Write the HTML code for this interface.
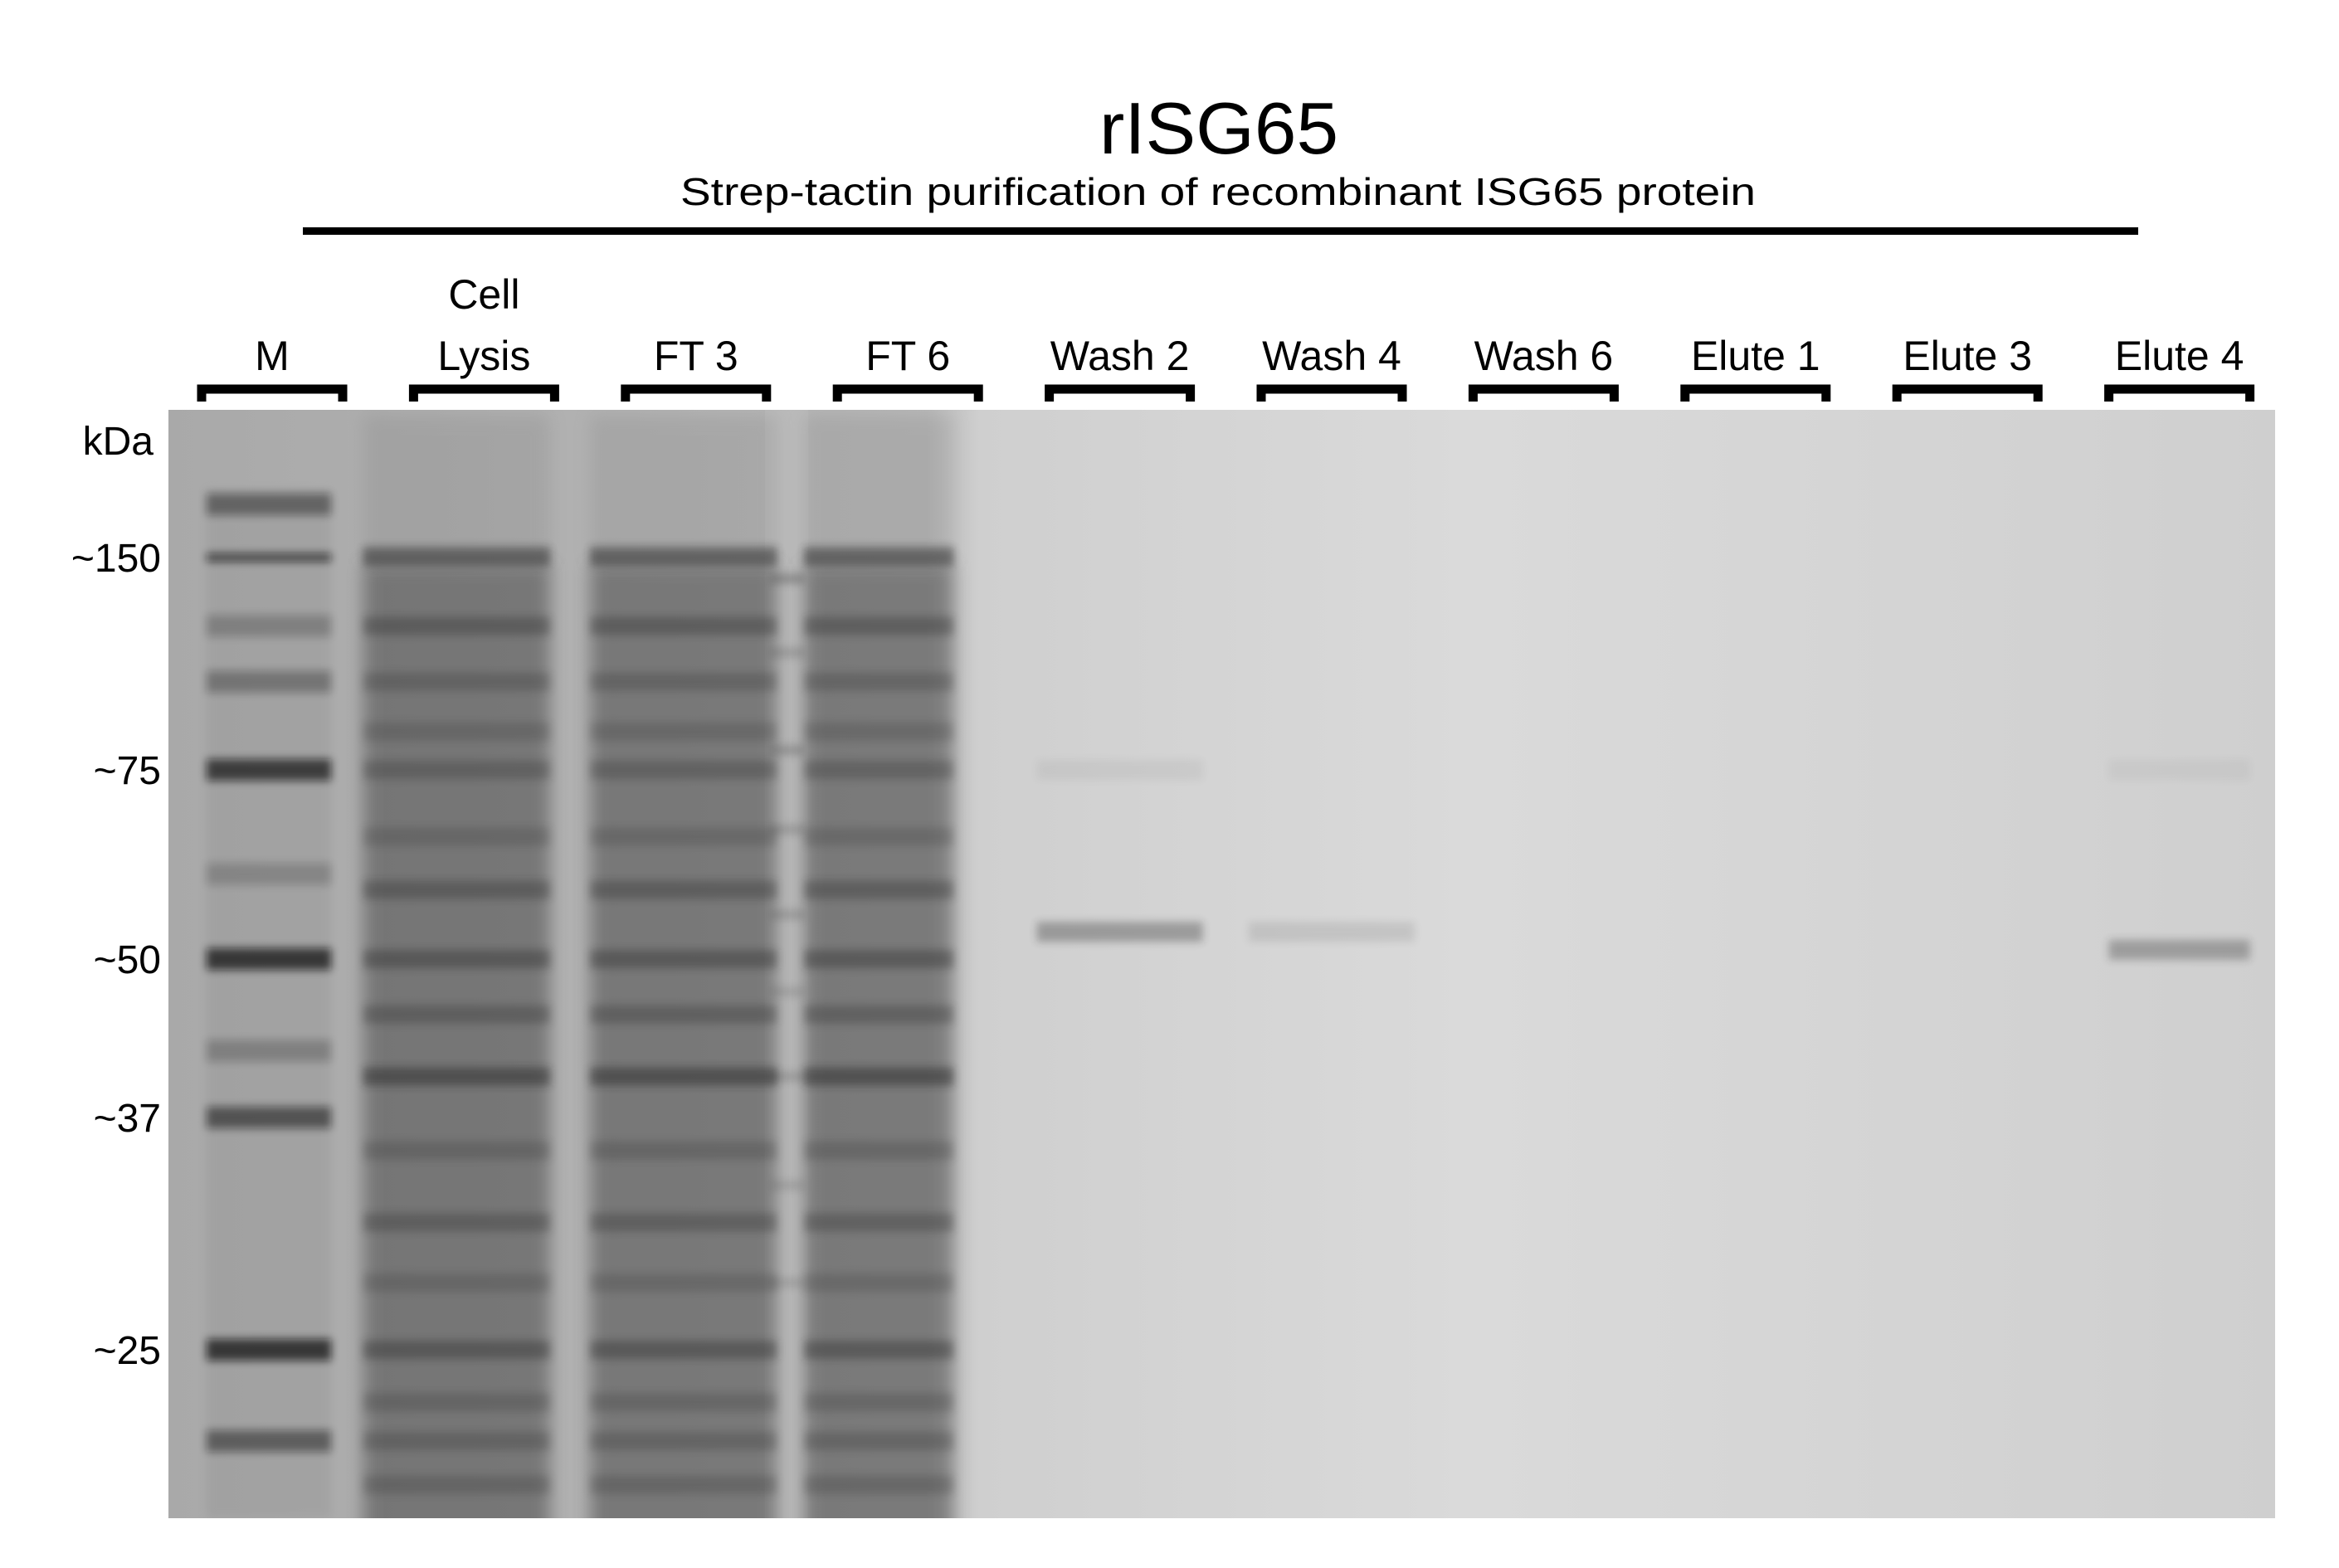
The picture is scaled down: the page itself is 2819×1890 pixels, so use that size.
<!DOCTYPE html>
<html><head><meta charset="utf-8"><style>
html,body{margin:0;padding:0;background:#fff;width:2819px;height:1890px;overflow:hidden}
svg{display:block}
text{font-family:"Liberation Sans",sans-serif;fill:#000}
</style></head><body>
<svg id="fig" width="2819" height="1890" viewBox="0 0 2819 1890" xmlns="http://www.w3.org/2000/svg">
<defs>
<filter id="blur" x="-20%" y="-200%" width="140%" height="500%"><feGaussianBlur stdDeviation="5"/></filter>
<filter id="blurS" x="-20%" y="-20%" width="140%" height="140%"><feGaussianBlur stdDeviation="10"/></filter>
<clipPath id="gelclip"><rect x="203" y="494" width="2539" height="1336"/></clipPath>
<linearGradient id="gelbg" x1="0" y1="0" x2="1" y2="0">
<stop offset="0" stop-color="#a9a9a9"/><stop offset="0.36" stop-color="#b8b8b8"/>
<stop offset="0.385" stop-color="#cfcfcf"/><stop offset="0.62" stop-color="#dadada"/>
<stop offset="1" stop-color="#cfcfcf"/></linearGradient>
</defs>
<text x="1469" y="185" font-size="88" text-anchor="middle" textLength="288" lengthAdjust="spacingAndGlyphs">rISG65</text>
<text x="1468" y="247" font-size="46" text-anchor="middle" textLength="1296" lengthAdjust="spacingAndGlyphs">Strep-tactin purification of recombinant ISG65 protein</text>
<rect x="365" y="274" width="2212" height="9" fill="#000"/>
<rect x="203" y="494" width="2539" height="1336" fill="url(#gelbg)"/>
<g id="gel" clip-path="url(#gelclip)"></g>
<g id="labels"></g>
</svg>
<script>
const lanes = ['M','Cell Lysis','FT 3','FT 6','Wash 2','Wash 4','Wash 6','Elute 1','Elute 3','Elute 4'];
const tickLabels = ['~150','~75','~50','~37','~25'];
const tickKda = [150,75,50,37,25];
const calibKda = [250,150,75,50,37,25,20];
const calibY = [608,672,928,1156,1347,1627,1737];
const markerKda = [250,150,120,100,75,60,50,42,37,25,20];
const markerInt = [0.55,0.85,0.3,0.4,0.9,0.25,0.95,0.3,0.7,0.95,0.6];
const lysateKda = [155,150,120,100,85,75,65,58,50,45,40,35,31,28,25,22,20,18];
const lysateInt = [0.3,0.8,0.6,0.45,0.35,0.5,0.35,0.6,0.7,0.55,0.9,0.4,0.55,0.35,0.7,0.4,0.45,0.4];
const wash2Kda = [75,53]; const wash2Int = [0.08,0.45];
const wash4Kda = [53]; const wash4Int = [0.15];
const elute4Kda = [75,51]; const elute4Int = [0.06,0.42];
const extraKda = [140,110,80,66,55,47,40,33,28];
const extraInt = [0.3,0.2,0.25,0.2,0.2,0.15,0.2,0.15,0.15];

const NS='http://www.w3.org/2000/svg';
const gel=document.getElementById('gel'), lab=document.getElementById('labels');
function laneX(i){return 328+i*255.4;}
function yOf(k){const l=Math.log(k);
  for(let j=0;j<calibKda.length-1;j++){const a=Math.log(calibKda[j]),b=Math.log(calibKda[j+1]);
    if(l<=a&&l>=b)return calibY[j]+(a-l)/(a-b)*(calibY[j+1]-calibY[j]);}
  if(l>Math.log(calibKda[0]))return calibY[0]-(l-Math.log(calibKda[0]))*300;
  return calibY[calibY.length-1]+(Math.log(calibKda[calibKda.length-1])-l)*500;}
function mk(tag,attrs,parent){const e=document.createElementNS(NS,tag);for(const k in attrs)e.setAttribute(k,attrs[k]);(parent||gel).appendChild(e);return e;}

// extra lane between FT3 and FT6 (drawn first, under smears)
const xl=mk('rect',{x:922,y:494,width:52,height:1336,fill:'#bababa'});


extraKda.forEach((k,j)=>{
  const b=mk('rect',{x:928,y:yOf(k)-6,width:42,height:12,fill:'#333',opacity:extraInt[j],filter:'url(#blur)'});
  
  
});

// lane smears
[1,2,3].forEach(i=>{
  const w=i===3?180:225, cx=laneX(i)-(i===1?33:i===2?15:35);
  const r=mk('rect',{x:cx-w/2,y:680,width:w,height:1200,fill:'#4a4a4a',opacity:0.55,filter:'url(#blurS)'});
  
  
  const t=mk('rect',{x:cx-w/2,y:500,width:w,height:180,fill:'#777',opacity:0.2,filter:'url(#blurS)'});
  
  
  lysateKda.forEach((k,j)=>{
    const b=mk('rect',{x:cx-w/2,y:yOf(k)-11,width:w,height:22,fill:'#222',opacity:lysateInt[j]*0.5,filter:'url(#blur)'});
    
    
  });
});
// marker
const mxc=laneX(0)-4;
const ms=mk('rect',{x:mxc-75,y:590,width:150,height:1240,fill:'#888',opacity:0.25,filter:'url(#blur)'});


markerKda.forEach((k,j)=>{
  const h=(k===150)?10:26;
  const b=mk('rect',{x:mxc-75,y:yOf(k)-h/2,width:150,height:h,fill:'#111',opacity:markerInt[j]*0.75,filter:'url(#blur)'});
  
  
});
function bands(i,ks,ints,w,name){ks.forEach((k,j)=>{
  const b=mk('rect',{x:laneX(i)-w/2,y:yOf(k)-12,width:w,height:24,fill:'#222',opacity:ints[j]*0.7,filter:'url(#blur)'});
  
  });}
bands(4,wash2Kda,wash2Int,200,'wash2');
bands(5,wash4Kda,wash4Int,200,'wash4');
bands(9,elute4Kda,elute4Int,170,'elute4');

// lane labels & brackets
lanes.forEach((n,i)=>{
  const x=laneX(i);
  if(n==='Cell Lysis'){
    const t1=mk('text',{x:x,y:372,'font-size':50,'text-anchor':'middle'},lab);t1.textContent='Cell';
    
    
    const t2=mk('text',{x:x,y:446,'font-size':50,'text-anchor':'middle'},lab);t2.textContent='Lysis';
    
    
  } else {
    const t=mk('text',{x:x,y:446,'font-size':50,'text-anchor':'middle'},lab);t.textContent=n;
    
    
  }
  const p=mk('path',{d:`M${x-85} 484 V469 H${x+85} V484`,fill:'none',stroke:'#000','stroke-width':11},lab);
  
  
});
const kd=mk('text',{x:185,y:548,'font-size':48,'text-anchor':'end'},lab);kd.textContent='kDa';


tickLabels.forEach((t,j)=>{
  const e=mk('text',{x:194,y:yOf(tickKda[j])+17,'font-size':48,'text-anchor':'end'},lab);e.textContent=t;
  
  
});
</script>
</body></html>
